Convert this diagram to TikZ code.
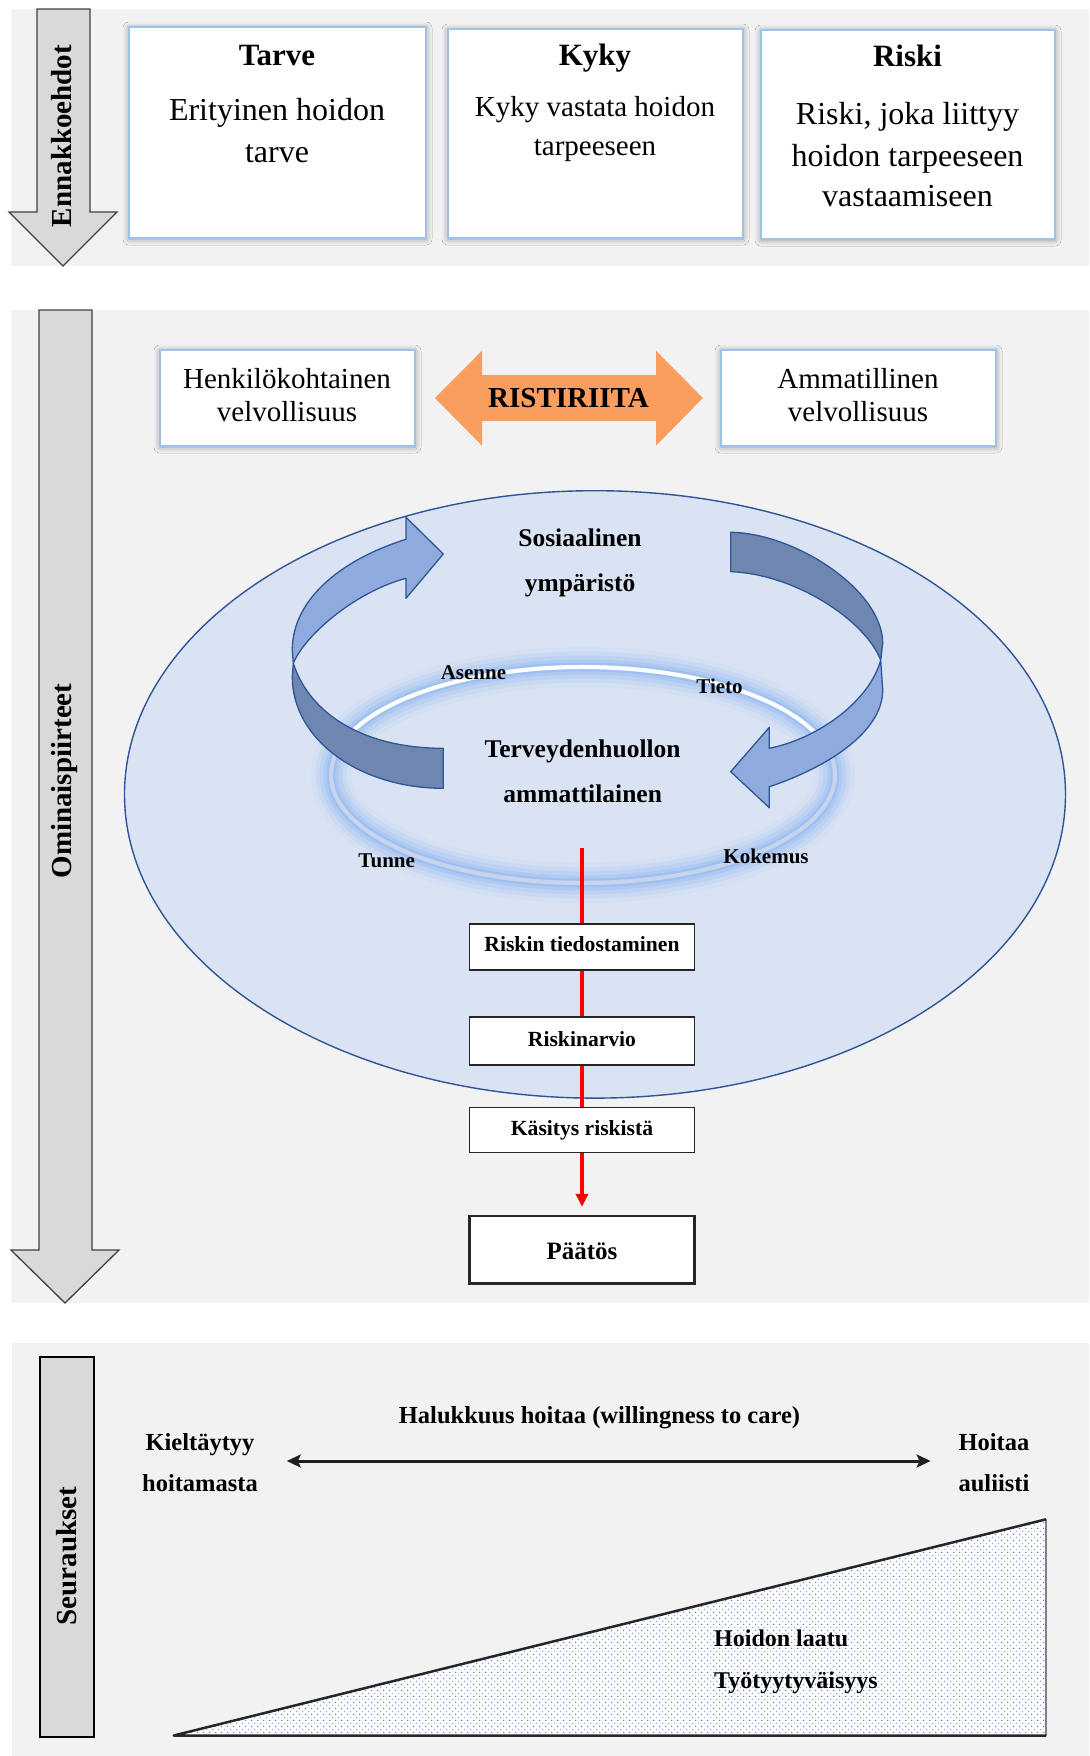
\documentclass[tikz,border=0pt]{standalone}
\usepackage{fontspec}
\setmainfont{Liberation Serif}
\usetikzlibrary{arrows.meta,shadows.blur,patterns.meta}

\definecolor{panelgray}{HTML}{F2F2F2}
\definecolor{arrowgray}{HTML}{D9D9D9}
\definecolor{arrowedge}{HTML}{404040}
\definecolor{boxblue}{HTML}{9DC3E6}
\definecolor{conflict}{RGB}{250,158,96}
\definecolor{envfill}{HTML}{DAE3F3}
\definecolor{envedge}{HTML}{2F5597}
\definecolor{ribbonfront}{RGB}{143,170,220}
\definecolor{ribbonback}{RGB}{111,134,176}
\definecolor{glowblue}{RGB}{120,172,242}
\definecolor{ringlow}{RGB}{200,212,236}
\definecolor{dotblue}{RGB}{95,135,215}

\newcommand\pxfont[1]{\fontsize{#1bp}{#1bp}\selectfont}

\begin{document}
\begin{tikzpicture}[x=1bp,y=-1bp,
  panel/.style={fill=panelgray},
  sidearrow/.style={fill=arrowgray, draw=arrowedge, line width=1.3bp, line join=miter},
  vtext/.style={inner sep=0pt, rotate=90, font=\bfseries\pxfont{29}},
  t/.style={inner sep=0pt, anchor=base},
  glowshadow/.style={blur shadow={shadow xshift=0bp, shadow yshift=-1bp,
      shadow blur radius=6bp, shadow opacity=40}},
  topbox/.style={draw=boxblue, line width=1.5bp, fill=white, inner sep=0pt, glowshadow},
  flowbox/.style={draw=black!85, line width=1.5bp, fill=white, inner sep=0pt,
      minimum width=225bp},
  ribbon/.style={draw=envedge, line width=1.3bp, line join=round},
  redline/.style={draw=red, line width=4bp},
  ]
\useasboundingbox (0,0) rectangle (1089,1756);

% ---------- panel backgrounds ----------
\fill[panel] (11,9) rectangle (1089,266);
\fill[panel] (11,310) rectangle (1089,1303);
\fill[panel] (12,1343) rectangle (1089,1756);

% ---------- Ennakkoehdot ----------
\filldraw[sidearrow] (37,9) -- (90,9) -- (90,212) -- (117,212) -- (63,266)
  -- (9,212) -- (37,212) -- cycle;
\node[vtext] (ennak) at (62,136) {Ennakkoehdot};

\node[topbox, minimum width=297bp, minimum height=211bp] (tarvebox) at (277.5,132.5) {};
\node[topbox, minimum width=295bp, minimum height=209bp] (kykybox) at (595.5,133.5) {};
\node[topbox, minimum width=294bp, minimum height=209bp] (riskibox) at (908,134.5) {};

\node[t, font=\bfseries\pxfont{31}] (tarveT) at (277,65.7) {Tarve};
\node[t, font=\pxfont{32}] (tarve1) at (277,120.7) {Erityinen hoidon};
\node[t, font=\pxfont{32}] (tarve2) at (277,162.7) {tarve};
\node[t, font=\bfseries\pxfont{31}] (kykyT) at (595,65.7) {Kyky};
\node[t, font=\pxfont{29}] (kyky1) at (595,116.7) {Kyky vastata hoidon};
\node[t, font=\pxfont{29}] (kyky2) at (595,155) {tarpeeseen};
\node[t, font=\bfseries\pxfont{31}] (riskiT) at (907.5,66.7) {Riski};
\node[t, font=\pxfont{32}] (riski1) at (907.5,124.3) {Riski, joka liittyy};
\node[t, font=\pxfont{32}] (riski2) at (907.5,166) {hoidon tarpeeseen};
\node[t, font=\pxfont{32}] (riski3) at (907.5,206.7) {vastaamiseen};

% ---------- Ominaispiirteet ----------
\filldraw[sidearrow] (39,310) -- (92,310) -- (92,1250) -- (119,1250) -- (65,1303)
  -- (11,1250) -- (39,1250) -- cycle;
\node[vtext] (omin) at (65,781) {Ominaispiirteet};

\node[topbox, minimum width=255bp, minimum height=96bp] (henkbox) at (287.5,398) {};
\node[topbox, minimum width=275bp, minimum height=96bp] (ammbox) at (858.5,398) {};
\node[t, font=\pxfont{29}] (henk1) at (287,388.3) {Henkilökohtainen};
\node[t, font=\pxfont{29}] (henk2) at (287,421.7) {velvollisuus};
\node[t, font=\pxfont{29}] (amm1) at (858,388.3) {Ammatillinen};
\node[t, font=\pxfont{29}] (amm2) at (858,421.7) {velvollisuus};

% conflict double arrow
\fill[conflict] (435,398) -- (482,350.7) -- (482,375) -- (656,375) -- (656,350.7)
  -- (702.8,398) -- (656,445.7) -- (656,421) -- (482,421) -- (482,445.7) -- cycle;
\node[t, font=\bfseries\pxfont{29}] (risti) at (568.5,407.3) {RISTIRIITA};

% social environment
\filldraw[fill=envfill, draw=envedge, line width=1.4bp] (595,794.4) ellipse [x radius=470.5, y radius=303.7];

% glowing ring round the professional
\foreach \w/\o in {40/0.07, 31/0.10, 23/0.14, 15/0.20, 9/0.28}
  \draw[glowblue, line width=\w bp, opacity=\o] (583,775) ellipse [x radius=252, y radius=108];
\draw[ringlow, line width=4bp] (583,775) ellipse [x radius=252, y radius=108];
\draw[white, line width=4bp] (583,775) ++(190:252 and 108)
  arc[start angle=190, end angle=350, x radius=252, y radius=108];

% left ribbon arrow: back face
\filldraw[ribbon, fill=ribbonback] (293.3,663.3) .. controls (310,715) and (365,748.3) .. (443.3,748.3)
  -- (443.3,788.3) .. controls (360,788.3) and (292.3,740) .. (292.3,676.7) -- cycle;
% left ribbon arrow: front face with head
\filldraw[ribbon, fill=ribbonfront] (443.3,554) -- (406,517.3) -- (406,539.3)
  .. controls (340,560) and (292.3,600) .. (292.3,650) -- (293.3,663.3)
  .. controls (305,635) and (355,592) .. (406,578.3) -- (406,598.3) -- cycle;

% right ribbon arrow: back face
\filldraw[ribbon, fill=ribbonback] (730.7,532.3) .. controls (795,533) and (882.7,590) .. (882.7,643.3)
  -- (880.7,660) .. controls (865,620) and (795,574) .. (730.7,571.7) -- cycle;
% right ribbon arrow: front face with head
\filldraw[ribbon, fill=ribbonfront] (880.7,660) -- (882.7,690)
  .. controls (882.7,735) and (820,770) .. (769.3,786.7) -- (769.3,807.7)
  -- (730.7,771.7) -- (769.3,727.3) -- (769.3,748.3)
  .. controls (820,738) and (870,700) .. cycle;

% labels inside the environment
\node[t, font=\bfseries\pxfont{25.5}] (sos1) at (580,546.7) {Sosiaalinen};
\node[t, font=\bfseries\pxfont{25.5}] (sos2) at (580,591.7) {ympäristö};
\node[t, font=\bfseries\pxfont{25.5}] (ter1) at (582.6,757.3) {Terveydenhuollon};
\node[t, font=\bfseries\pxfont{25.5}] (ter2) at (582.6,802.7) {ammattilainen};
\node[t, font=\bfseries\pxfont{21}] (asenne) at (473.5,679) {Asenne};
\node[t, font=\bfseries\pxfont{21}] (tieto) at (719.5,693.3) {Tieto};
\node[t, font=\bfseries\pxfont{21}] (tunne) at (386.7,867.7) {Tunne};
\node[t, font=\bfseries\pxfont{21}] (kokemus) at (766,863.3) {Kokemus};

% risk process
\node[flowbox, minimum height=46bp] (b1) at (582,947) {};
\node[flowbox, minimum height=47.7bp] (b2) at (582,1041) {};
\node[flowbox, minimum height=45.4bp] (b3) at (582,1130) {};
\node[flowbox, line width=2.5bp, minimum height=67.3bp] (b4) at (582,1249.7) {};
\node[t, font=\bfseries\pxfont{21.6}] (b1t) at (582,951.7) {Riskin tiedostaminen};
\node[t, font=\bfseries\pxfont{21.6}] (b2t) at (582,1046) {Riskinarvio};
\node[t, font=\bfseries\pxfont{21.6}] (b3t) at (582,1135.7) {Käsitys riskistä};
\node[t, font=\bfseries\pxfont{25}] (b4t) at (582,1259.3) {Päätös};

\coordinate (redstart) at (582,848);
\draw[redline] (redstart) -- (b1.north);
\draw[redline] (b1.south) -- (b2.north);
\draw[redline] (b2.south) -- (b3.north);
\draw[redline, -{Triangle[length=13bp, width=12bp]}, shorten >=8bp] (b3.south) -- (b4.north);

% ---------- Seuraukset ----------
\node[draw=black, line width=2.5bp, fill=arrowgray, inner sep=0pt,
  minimum width=54bp, minimum height=380bp] (seurbox) at (67,1547) {};
\node[vtext] (seur) at (67,1556) {Seuraukset};

\node[t, font=\bfseries\pxfont{24.5}] (halu) at (599.5,1423.3) {Halukkuus hoitaa (willingness to care)};
\node[t, font=\bfseries\pxfont{24.5}] (kielt1) at (200,1450) {Kieltäytyy};
\node[t, font=\bfseries\pxfont{24.5}] (kielt2) at (200,1491.5) {hoitamasta};
\node[t, font=\bfseries\pxfont{24.5}] (hoit1) at (994,1450) {Hoitaa};
\node[t, font=\bfseries\pxfont{24.5}] (hoit2) at (994,1491.5) {auliisti};

\coordinate (willL) at (286.8,1461);
\coordinate (willR) at (930.6,1461);
\draw[black!88, line width=3bp,
  {Stealth[length=14bp, width=13bp, inset=3bp]}-{Stealth[length=14bp, width=13bp, inset=3bp]}]
  (willL) -- (willR);

% quality wedge
\fill[white] (173.7,1735.5) -- (1046,1735.5) -- (1046,1519.3) -- cycle;
\fill[pattern={Dots[distance=6bp, radius=0.9bp]}, pattern color=dotblue]
  (173.7,1735.5) -- (1046,1735.5) -- (1046,1519.3) -- cycle;
\fill[pattern={Dots[distance=6bp, radius=0.9bp, xshift=3bp, yshift=3bp]}, pattern color=dotblue!70]
  (173.7,1735.5) -- (1046,1735.5) -- (1046,1519.3) -- cycle;
\draw[black!50, line width=1.8bp] (1046,1735.5) -- (1046,1519.3);
\draw[black!85, line width=2.5bp, line join=round] (1046,1519.3) -- (173.7,1735.5) -- (1046,1735.5);

\node[t, anchor=base west, font=\bfseries\pxfont{24}] (laatu) at (714,1646.7) {Hoidon laatu};
\node[t, anchor=base west, font=\bfseries\pxfont{24}] (tyyt) at (714,1688.3) {Työtyytyväisyys};
\end{tikzpicture}
\end{document}
